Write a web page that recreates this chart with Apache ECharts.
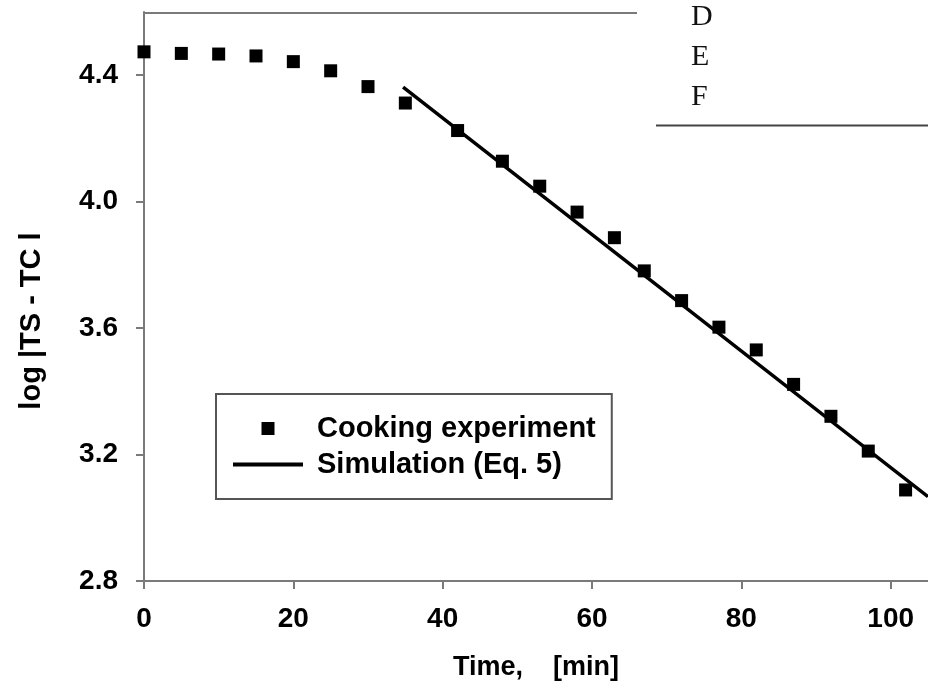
<!DOCTYPE html>
<html>
<head>
<meta charset="utf-8">
<title>Cooking experiment vs simulation</title>
<script src="https://cdn.jsdelivr.net/npm/echarts@6/dist/echarts.min.js"></script>
<style>
  html, body { margin: 0; padding: 0; background: #fff; }
  #chart { width: 928px; height: 686px; }
</style>
</head>
<body>
<div id="chart"></div>
<script>
// measured points (time in min, log|TS - TC|)
var expTime = [0, 5, 10, 15, 20, 25, 30, 35, 42, 48, 53, 58, 63, 67, 72, 77, 82, 87, 92, 97, 102];
var expLog = [4.474, 4.469, 4.467, 4.461, 4.443, 4.414, 4.364, 4.312, 4.225, 4.128, 4.049, 3.967,
              3.886, 3.781, 3.687, 3.603, 3.531, 3.422, 3.321, 3.211, 3.088];
// simulation line (Eq. 5)
var simTime = [34.7, 105];
var simLog = [4.362, 3.067];
// tick labels
var xTicks = [0, 20, 40, 60, 80, 100];
var yTicks = [2.8, 3.2, 3.6, 4.0, 4.4];
var sideLetters = ['D', 'E', 'F'];

var font = '"Liberation Sans", Arial, sans-serif';
var axisGray = '#7a7a7a';

var chart = echarts.init(document.getElementById('chart'), null, {renderer: 'canvas'});

var expData = expTime.map(function (t, i) { return [t, expLog[i]]; });
var simData = simTime.map(function (t, i) { return [t, simLog[i]]; });

var letters = sideLetters.map(function (s, i) {
    return {
        type: 'text', left: 691, top: 2 + i * 40,
        style: { text: s, font: '30px "Liberation Serif", "Times New Roman", serif', fill: '#111' }
    };
});

chart.setOption({
    animation: false,
    backgroundColor: '#fff',
    grid: { left: 144, right: 0, top: 12, bottom: 103 },
    xAxis: {
        type: 'value', min: 0, max: 105,
        name: 'Time,    [min]', nameLocation: 'middle', nameGap: 73,
        nameTextStyle: { fontFamily: font, fontSize: 27, fontWeight: 'bold', color: '#000' },
        axisLine: { lineStyle: { color: axisGray, width: 2 } },
        axisTick: { customValues: xTicks, length: 8, lineStyle: { color: axisGray, width: 2 } },
        axisLabel: { customValues: xTicks, margin: 24, fontFamily: font, fontSize: 28, fontWeight: 'bold', color: '#000' },
        splitLine: { show: false }
    },
    yAxis: {
        type: 'value', min: 2.8, max: 4.6,
        name: 'log |TS - TC l', nameLocation: 'middle', nameGap: 98, nameRotate: 90,
        nameTextStyle: { fontFamily: font, fontSize: 29, fontWeight: 'bold', color: '#000', padding: [0, 49, 0, 0] },
        axisLine: { show: true, lineStyle: { color: axisGray, width: 2 } },
        axisTick: { show: true, customValues: yTicks, length: 8, lineStyle: { color: axisGray, width: 2 } },
        axisLabel: {
            customValues: yTicks, margin: 26, fontFamily: font, fontSize: 28, fontWeight: 'bold', color: '#000',
            formatter: function (v) { return v.toFixed(1); }
        },
        splitLine: { show: false }
    },
    legend: {
        orient: 'vertical', left: 216, top: 394,
        padding: [20, 16, 20, 17],
        itemWidth: 70, itemHeight: 13, itemGap: 7,
        borderColor: '#555', borderWidth: 2,
        selectedMode: false,
        itemStyle: { color: '#000', borderWidth: 0, opacity: 1 },
        textStyle: { fontFamily: font, fontSize: 29, fontWeight: 'bold', color: '#000', padding: [0, 0, 0, 9] },
        data: [
            { name: 'Cooking experiment', icon: 'path://M0,0h1v1h-1z' },
            { name: 'Simulation (Eq. 5)', icon: 'path://M0,0h70v4h-70z' }
        ]
    },
    graphic: [
        { type: 'line', shape: { x1: 144, y1: 13, x2: 637, y2: 13 }, style: { stroke: axisGray, lineWidth: 2 } },
        { type: 'line', shape: { x1: 656, y1: 125.5, x2: 928, y2: 125.5 }, style: { stroke: '#444', lineWidth: 2 } }
    ].concat(letters),
    series: [
        {
            name: 'Cooking experiment', type: 'scatter', data: expData,
            symbol: 'rect', symbolSize: 13,
            itemStyle: { color: '#000', opacity: 1 }, z: 3
        },
        {
            name: 'Simulation (Eq. 5)', type: 'line', data: simData,
            showSymbol: false, symbol: 'none',
            lineStyle: { color: '#000', width: 3.5 },
            itemStyle: { color: '#000' }, z: 2
        }
    ]
});
</script>
</body>
</html>
